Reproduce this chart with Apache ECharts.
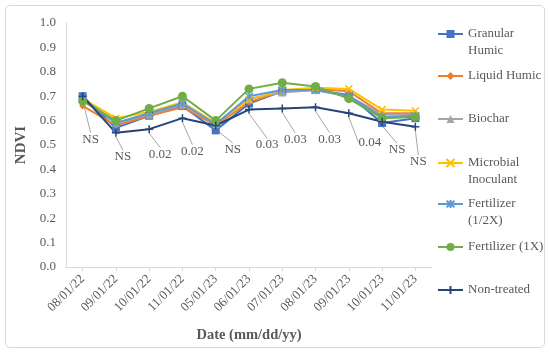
<!DOCTYPE html>
<html>
<head>
<meta charset="utf-8">
<script src="https://cdn.jsdelivr.net/npm/echarts@6/dist/echarts.min.js"></script>
<style>
html,body{margin:0;padding:0;background:#fff;}
#chart{position:absolute;left:0;top:0;width:550px;height:354px;}
#frame{position:absolute;left:5px;top:5px;width:538px;height:341px;border:1px solid #d9d9d9;border-radius:5px;pointer-events:none;}
</style>
</head>
<body>
<div id="chart"></div>
<div id="frame"></div>
<script>
// ---- data ----
const categories = ['08/01/22','09/01/22','10/01/22','11/01/22','05/01/23','06/01/23','07/01/23','08/01/23','09/01/23','10/01/23','11/01/23'];
const granularHumic = [0.70, 0.57, 0.62, 0.66, 0.56, 0.67, 0.72, 0.725, 0.705, 0.59, 0.61];
const liquidHumic = [0.66, 0.58, 0.62, 0.655, 0.58, 0.675, 0.72, 0.73, 0.72, 0.63, 0.63];
const biochar = [0.69, 0.59, 0.625, 0.665, 0.585, 0.69, 0.715, 0.725, 0.70, 0.625, 0.625];
const microbialInoculant = [0.69, 0.61, 0.635, 0.675, 0.59, 0.685, 0.725, 0.735, 0.73, 0.645, 0.64];
const fertilizerHalf = [0.69, 0.59, 0.63, 0.67, 0.585, 0.70, 0.725, 0.725, 0.70, 0.615, 0.62];
const fertilizerOne = [0.68, 0.60, 0.65, 0.70, 0.60, 0.73, 0.755, 0.74, 0.69, 0.61, 0.615];
const nonTreated = [0.70, 0.55, 0.565, 0.61, 0.58, 0.645, 0.65, 0.655, 0.63, 0.595, 0.575];
const sigLabels = ['NS','NS','0.02','0.02','NS','0.03','0.03','0.03','0.04','NS','NS'];
const yTicks = [0,0.1,0.2,0.3,0.4,0.5,0.6,0.7,0.8,0.9,1.0];

// ---- styling ----
const FONT = 'Liberation Serif';
const TXT = '#595959';
const labelOffsets = [[8,43],[7,24],[11,25],[10,33],[17,24],[18,35],[13,31],[14,32],[21,29],[15,28],[3,35]];

const SYM_X = 'path://M0 0L10 10M10 0L0 10';
const SYM_STAR = 'path://M0 0L10 10M10 0L0 10M5 -1L5 11';
const SYM_PLUS = 'path://M5 0L5 10M4.9 5L5.1 5';

function mk(name, data, color, symbol, size, stroke) {
  return {
    name, type: 'line', data,
    symbol, symbolSize: size,
    lineStyle: {color, width: 2},
    itemStyle: stroke ? {color: 'rgba(0,0,0,0)', borderColor: color, borderWidth: 1.5} : {color, borderColor: color, borderWidth: 0},
    emphasis: {disabled: true},
    animation: false
  };
}

const series = [
  mk('Granular\nHumic', granularHumic, '#4472C4', 'rect', 8),
  mk('Liquid Humic', liquidHumic, '#ED7D31', 'diamond', 7),
  mk('Biochar', biochar, '#A5A5A5', 'triangle', 8),
  mk('Microbial\nInoculant', microbialInoculant, '#FFC000', SYM_X, 7, true),
  mk('Fertilizer\n(1/2X)', fertilizerHalf, '#5B9BD5', SYM_STAR, 8, true),
  mk('Fertilizer (1X)', fertilizerOne, '#70AD47', 'circle', 9),
  mk('Non-treated', nonTreated, '#264478', SYM_PLUS, 8, true)
];
const nt = series[6];
nt.label = {
  show: true, position: 'inside',
  formatter: p => sigLabels[p.dataIndex],
  fontFamily: FONT, fontSize: 13, color: TXT
};
nt.labelLayout = function (params) {
  const o = labelOffsets[params.dataIndex];
  return {dx: o[0], dy: o[1]};
};
nt.labelLine = {show: true, lineStyle: {color: '#a6a6a6', width: 1}};

const legendTops = [8.5, 67.5, 110.5, 137.5, 178.5, 238.5, 281.5];
const legends = series.map((s, i) => {
  const twoLine = s.name.indexOf('\n') >= 0;
  return {
    show: true, orient: 'vertical', left: 437, top: legendTops[i], padding: 0,
    itemWidth: 25, itemHeight: 10, selectedMode: false,
    data: [{name: s.name}],
    formatter: twoLine ? (n => ' \n' + n) : (n => n),
    textStyle: {fontFamily: FONT, fontSize: 13, color: TXT, lineHeight: 17}
  };
});

const chart = echarts.init(document.getElementById('chart'), null, {renderer: 'canvas'});
chart.setOption({
  animation: false,
  backgroundColor: 'transparent',
  grid: {left: 66, right: 118, top: 23, bottom: 87, containLabel: false},
  legend: legends,
  xAxis: {
    type: 'category', data: categories, boundaryGap: true,
    name: 'Date (mm/dd/yy)', nameLocation: 'middle', nameGap: 61,
    nameTextStyle: {fontFamily: FONT, fontSize: 14.5, fontWeight: 'bold', color: TXT},
    axisLine: {lineStyle: {color: '#d9d9d9', width: 1}},
    axisTick: {show: true, alignWithLabel: true, length: 4, lineStyle: {color: '#d9d9d9'}},
    axisLabel: {rotate: 45, margin: 10, fontFamily: FONT, fontSize: 13, color: TXT, interval: 0},
    splitLine: {show: false}
  },
  yAxis: {
    type: 'value', min: yTicks[0], max: yTicks[yTicks.length - 1], interval: 0.1,
    name: 'NDVI', nameLocation: 'middle', nameGap: 26,
    nameTextStyle: {fontFamily: FONT, fontSize: 15, fontWeight: 'bold', color: TXT},
    axisLine: {show: true, lineStyle: {color: '#d9d9d9', width: 1}},
    axisTick: {show: false},
    axisLabel: {fontFamily: FONT, fontSize: 13, color: TXT, margin: 10, formatter: v => v.toFixed(1)},
    splitLine: {show: false}
  },
  series
});
</script>
</body>
</html>
